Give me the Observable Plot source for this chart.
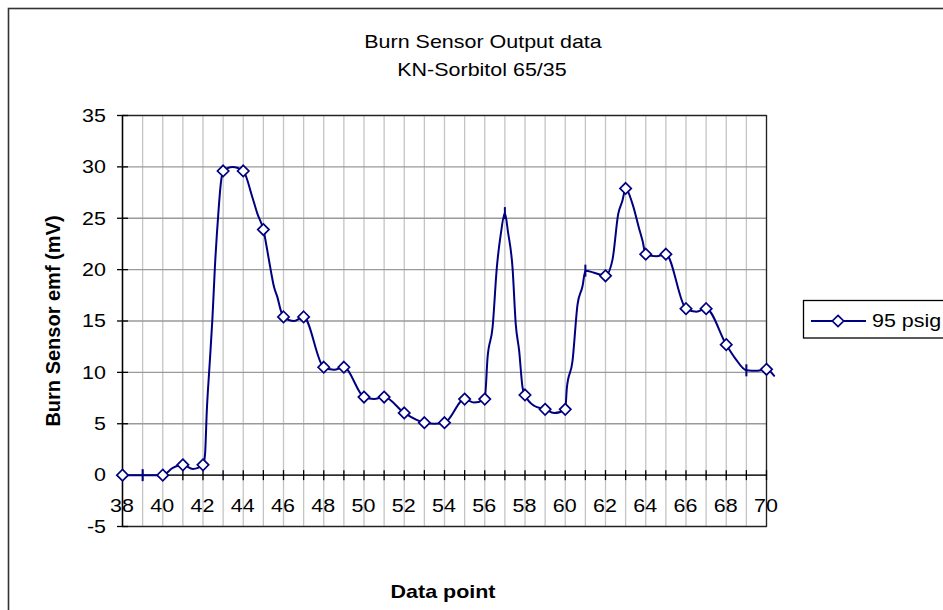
<!DOCTYPE html>
<html><head><meta charset="utf-8">
<script src="https://cdn.jsdelivr.net/npm/d3@7"></script>
<script src="https://cdn.jsdelivr.net/npm/@observablehq/plot@0.6"></script>
<style>html,body{margin:0;padding:0;background:#fff;} svg{display:block}</style>
</head><body><div id="chart"></div>
<script>
const title1 = "Burn Sensor Output data";
const title2 = "KN-Sorbitol 65/35";
const xTitle = "Data point";
const yTitle = "Burn Sensor emf (mV)";
const seriesName = "95 psig";

// measured points (integer data points)
const pointX = [38,39,40,41,42,43,44,45,46,47,48,49,50,51,52,53,54,55,56,57,58,59,60,61,62,63,64,65,66,67,68,69,70];
const pointY = [0,0,0,1.0,1.0,29.6,29.6,23.9,15.4,15.4,10.5,10.5,7.6,7.6,6.05,5.1,5.1,7.4,7.4,25.5,7.8,6.4,6.4,19.9,19.4,27.9,21.5,21.5,16.2,16.2,12.7,10.2,10.3];
// points drawn with a vertical-bar marker instead of a diamond
const dashX = [39,57,61,69];

// smoothed trace
const curveX = [38,39,40,40.5,41,41.5,42,42.10,42.19,42.32,42.47,42.59,42.77,42.88,43,43.47,44,44.46,44.71,45,45.2,45.37,45.53,45.70,45.87,46,46.53,47,48,48.51,49,50,50.5,51,52,53,53.5,54,55,55.47,56,56.14,56.39,56.60,56.80,57,57.16,57.38,57.54,57.71,57.88,58,58.45,59,59.45,60,60.08,60.36,60.61,60.86,61,61.43,62,62.35,62.63,62.84,63,63.34,63.67,63.84,64,64.53,65,66,66.52,67,68,68.47,69,69.55,70,70.38];
const curveY = [0,0,0,0.7,1.0,0.6,1.0,2.0,6.3,10.5,15.3,20.2,25.7,28.3,29.6,30.0,29.6,27.0,25.4,23.9,21.8,19.9,18.3,17.3,16.0,15.4,15.0,15.4,10.5,10.25,10.5,7.6,7.4,7.6,6.05,5.1,5.0,5.1,7.4,7.07,7.4,11.45,14.4,20.2,23.5,25.5,23.6,20.2,14.7,12.1,8.5,7.8,6.75,6.4,6.04,6.4,8.5,11.1,16.6,18.4,19.9,19.7,19.4,21.0,25.4,26.7,27.9,26.4,24.0,22.8,21.5,21.3,21.5,16.2,15.9,16.2,12.7,11.3,10.2,10.15,10.3,9.67];

const xTicks = [38,39,40,41,42,43,44,45,46,47,48,49,50,51,52,53,54,55,56,57,58,59,60,61,62,63,64,65,66,67,68,69,70];
const xTickLabels = [38,40,42,44,46,48,50,52,54,56,58,60,62,64,66,68,70];
const yTicks = [-5,0,5,10,15,20,25,30,35];

const navy = "#000080";
const FONT = "Arial, 'Liberation Sans', sans-serif";
const SX = 1.13; // horizontal text stretch of the reference

const vbar = {draw(ctx, size){const h=Math.sqrt(size/Math.PI); ctx.moveTo(0,-h); ctx.lineTo(0,h);}};
const hbar = {draw(ctx, size){const h=Math.sqrt(size/Math.PI); ctx.moveTo(-h,0); ctx.lineTo(h,0);}};

const curve = curveX.map((x,i)=>({x, y: curveY[i]}));
const points = pointX.map((x,i)=>({x, y: pointY[i]}));
const diamonds = points.filter(d => !dashX.includes(d.x));
const dashes = points.filter(d => dashX.includes(d.x));

const W = 943, H = 610;
const plot = Plot.plot({
  width: W, height: H,
  marginLeft: 122, marginRight: 177, marginTop: 115, marginBottom: 84,
  style: {fontFamily: FONT, fontSize: "19px", background: "white", color: "black", overflow: "visible"},
  x: {domain: [38,70], axis: null},
  y: {domain: [-5,35], axis: null},
  marks: [
    Plot.ruleX(xTicks, {stroke: "#c4c4c4", strokeWidth: 1.3}),
    Plot.ruleY(yTicks, {stroke: "#9a9a9a", strokeWidth: 1.3}),
    Plot.frame({stroke: "#222", strokeWidth: 1.3}),
    Plot.ruleY([0], {stroke: "#000", strokeWidth: 1.3}),
    Plot.ruleX([38], {stroke: "#000", strokeWidth: 1.3}),
    Plot.dot(xTicks, {x: d=>d, y: 0, symbol: vbar, r: 5, stroke: "#000", strokeWidth: 1.3}),
    Plot.dot(yTicks, {x: 38, y: d=>d, symbol: hbar, r: 5.5, stroke: "#000", strokeWidth: 1.3}),
    Plot.line(curve, {x: "x", y: "y", stroke: navy, strokeWidth: 2, curve: "monotone-x"}),
    Plot.dot(diamonds, {x: "x", y: "y", symbol: "diamond2", r: 5.1, stroke: navy, strokeWidth: 1.7, fill: "white"}),
    Plot.dot(dashes, {x: "x", y: "y", symbol: vbar, r: 6, stroke: navy, strokeWidth: 2})
  ]
});
document.getElementById("chart").appendChild(plot);

const svg = d3.select(plot);
const xs = plot.scale("x"), ys = plot.scale("y");

// outer chart border
svg.insert("rect", ":first-child").attr("x", 8.5).attr("y", 8.5).attr("width", 1200).attr("height", 1200)
  .attr("fill", "none").attr("stroke", "#333").attr("stroke-width", 1.6);

const addText = (txt, x, y, opts={}) => svg.append("text").text(txt)
    .attr("transform", opts.transform || `translate(${x},${y}) scale(${SX},1)`)
    .attr("text-anchor", opts.anchor || "middle")
    .attr("font-family", FONT)
    .attr("font-size", opts.size || 19)
    .attr("font-weight", opts.weight || "normal")
    .attr("fill", "black");

// tick labels through Plot's scales
yTicks.forEach(v => addText(String(v), 106, ys.apply(v) + 6.8, {anchor: "end"}));
xTickLabels.forEach(v => addText(String(v), xs.apply(v), ys.apply(0) + 37.5));

addText(title1, 483, 48);
addText(title2, 482, 76);
addText(xTitle, 443, 598, {weight: "bold"});
addText(yTitle, 0, 0, {weight: "bold", size: 20, transform: `translate(60,321) rotate(-90)`});

// legend
const lg = svg.append("g");
lg.append("rect").attr("x", 803.5).attr("y", 300.5).attr("width", 300).attr("height", 37.5)
  .attr("fill", "white").attr("stroke", "#000").attr("stroke-width", 1.3);
lg.append("line").attr("x1", 811).attr("x2", 866).attr("y1", 321).attr("y2", 321)
  .attr("stroke", navy).attr("stroke-width", 2);
lg.append("path").attr("d", d3.symbol(d3.symbolDiamond2, Math.PI*5.1*5.1)())
  .attr("transform", "translate(838,321)").attr("fill", "white").attr("stroke", navy).attr("stroke-width", 1.7);
lg.append("text").text(seriesName).attr("transform", `translate(872,327) scale(${SX},1)`)
  .attr("text-anchor", "start")
  .attr("font-family", FONT).attr("font-size", 19).attr("fill", "black");
</script>
</body></html>
